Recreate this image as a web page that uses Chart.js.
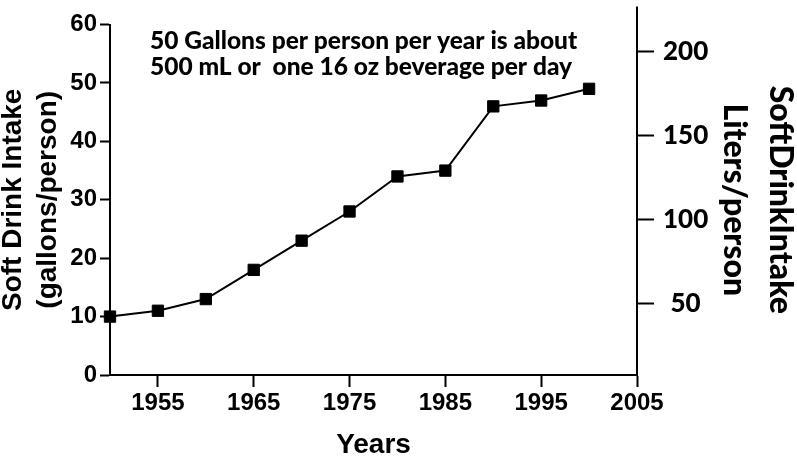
<!DOCTYPE html>
<html>
<head>
<meta charset="utf-8">
<script src="https://cdn.jsdelivr.net/npm/chart.js@4"></script>
<style>
  html, body { margin: 0; padding: 0; background: #fff; }
  #wrap { width: 797px; height: 459px; }
</style>
</head>
<body>
<div id="wrap"><canvas id="drinkChart" width="797" height="459"></canvas></div>
<script>
// data
var years = [1950, 1955, 1960, 1965, 1970, 1975, 1980, 1985, 1990, 1995, 2000];
var gallons = [10, 11, 13, 18, 23, 28, 34, 35, 46, 47, 49];
var yearTicks = [1955, 1965, 1975, 1985, 1995, 2005];
var gallonTicks = [0, 10, 20, 30, 40, 50, 60];
var literTicks = [50, 100, 150, 200];
var noteLines = ['50 Gallons per person per year is about', '500 mL or  one 16 oz beverage per day'];

var arialBold = 'Liberation Sans, Arial, sans-serif';
var calibriLike = 'Lato, Open Sans, sans-serif';

var notePlugin = {
    id: 'note',
    afterDraw: function(chart) {
        var ctx = chart.ctx;
        var area = chart.chartArea;
        var right = chart.scales.y2;
        ctx.save();
        // right axis line runs a little above the plot
        ctx.strokeStyle = '#000';
        ctx.lineWidth = 2;
        ctx.beginPath();
        ctx.moveTo(right.left, area.top);
        ctx.lineTo(right.left, area.top - 18);
        ctx.stroke();
        ctx.fillStyle = '#000';
        ctx.font = '900 24.5px ' + calibriLike;
        ctx.textBaseline = 'alphabetic';
        ctx.textAlign = 'left';
        ctx.fillText(noteLines[0], area.left + 40, area.top + 24);
        ctx.fillText(noteLines[1], area.left + 40, area.top + 50);
        ctx.restore();
    }
};

var points = years.map(function(yr, i) { return {x: yr, y: gallons[i]}; });

var ctx = document.getElementById('drinkChart').getContext('2d');
var chart = new Chart(ctx, {
    type: 'line',
    data: {
        datasets: [{
            data: points,
            borderColor: '#000',
            backgroundColor: '#000',
            borderWidth: 2,
            pointStyle: 'rect',
            pointRadius: 8,
            pointBorderWidth: 1,
            tension: 0,
            clip: false
        }]
    },
    options: {
        responsive: false,
        animation: false,
        layout: { padding: { top: 21, left: -4, right: -7, bottom: 0 } },
        plugins: { legend: { display: false }, tooltip: { enabled: false } },
        scales: {
            x: {
                type: 'linear',
                min: 1950,
                max: 2005,
                afterBuildTicks: function(scale) {
                    scale.ticks = yearTicks.map(function(v) { return {value: v}; });
                },
                afterFit: function(scale) { scale.height = 84; },
                border: { display: true, color: '#000', width: 2 },
                grid: { display: true, drawOnChartArea: false, tickLength: 12, tickColor: '#000', tickWidth: 2 },
                ticks: {
                    color: '#000',
                    padding: 2,
                    maxRotation: 0,
                    font: { family: arialBold, size: 24, weight: 'bold' },
                    callback: function(v) { return String(v); }
                },
                title: {
                    display: true,
                    text: 'Years',
                    color: '#000',
                    padding: 0,
                    font: { family: arialBold, size: 28, weight: 'bold', lineHeight: 1 }
                }
            },
            y: {
                position: 'left',
                min: 0,
                max: 60,
                afterBuildTicks: function(scale) {
                    scale.ticks = gallonTicks.map(function(v) { return {value: v}; });
                },
                afterFit: function(scale) { scale.width = 114; },
                border: { display: true, color: '#000', width: 2 },
                grid: { display: true, drawOnChartArea: false, tickLength: 10, tickColor: '#000', tickWidth: 2 },
                ticks: {
                    color: '#000',
                    padding: 3,
                    font: { family: arialBold, size: 24, weight: 'bold' }
                },
                title: {
                    display: true,
                    text: ['Soft Drink Intake', '(gallons/person)'],
                    color: '#000',
                    padding: 0,
                    font: { family: arialBold, size: 28, weight: 'bold', lineHeight: 1.25 }
                }
            },
            y2: {
                position: 'right',
                min: 7.65,
                max: 215.9,
                afterBuildTicks: function(scale) {
                    scale.ticks = literTicks.map(function(v) { return {value: v}; });
                },
                afterFit: function(scale) { scale.width = 167; },
                border: { display: true, color: '#000', width: 2 },
                grid: { display: true, drawOnChartArea: false, tickLength: 17, tickColor: '#000', tickWidth: 2 },
                ticks: {
                    color: '#000',
                    padding: 9,
                    crossAlign: 'center',
                    font: { family: calibriLike, size: 26, weight: '900' }
                },
                title: {
                    display: true,
                    text: ['SoftDrinkIntake', 'Liters/person'],
                    color: '#000',
                    padding: 0,
                    font: { family: calibriLike, size: 32, weight: '900', lineHeight: 1.45 }
                }
            }
        }
    },
    plugins: [notePlugin]
});
</script>
</body>
</html>
